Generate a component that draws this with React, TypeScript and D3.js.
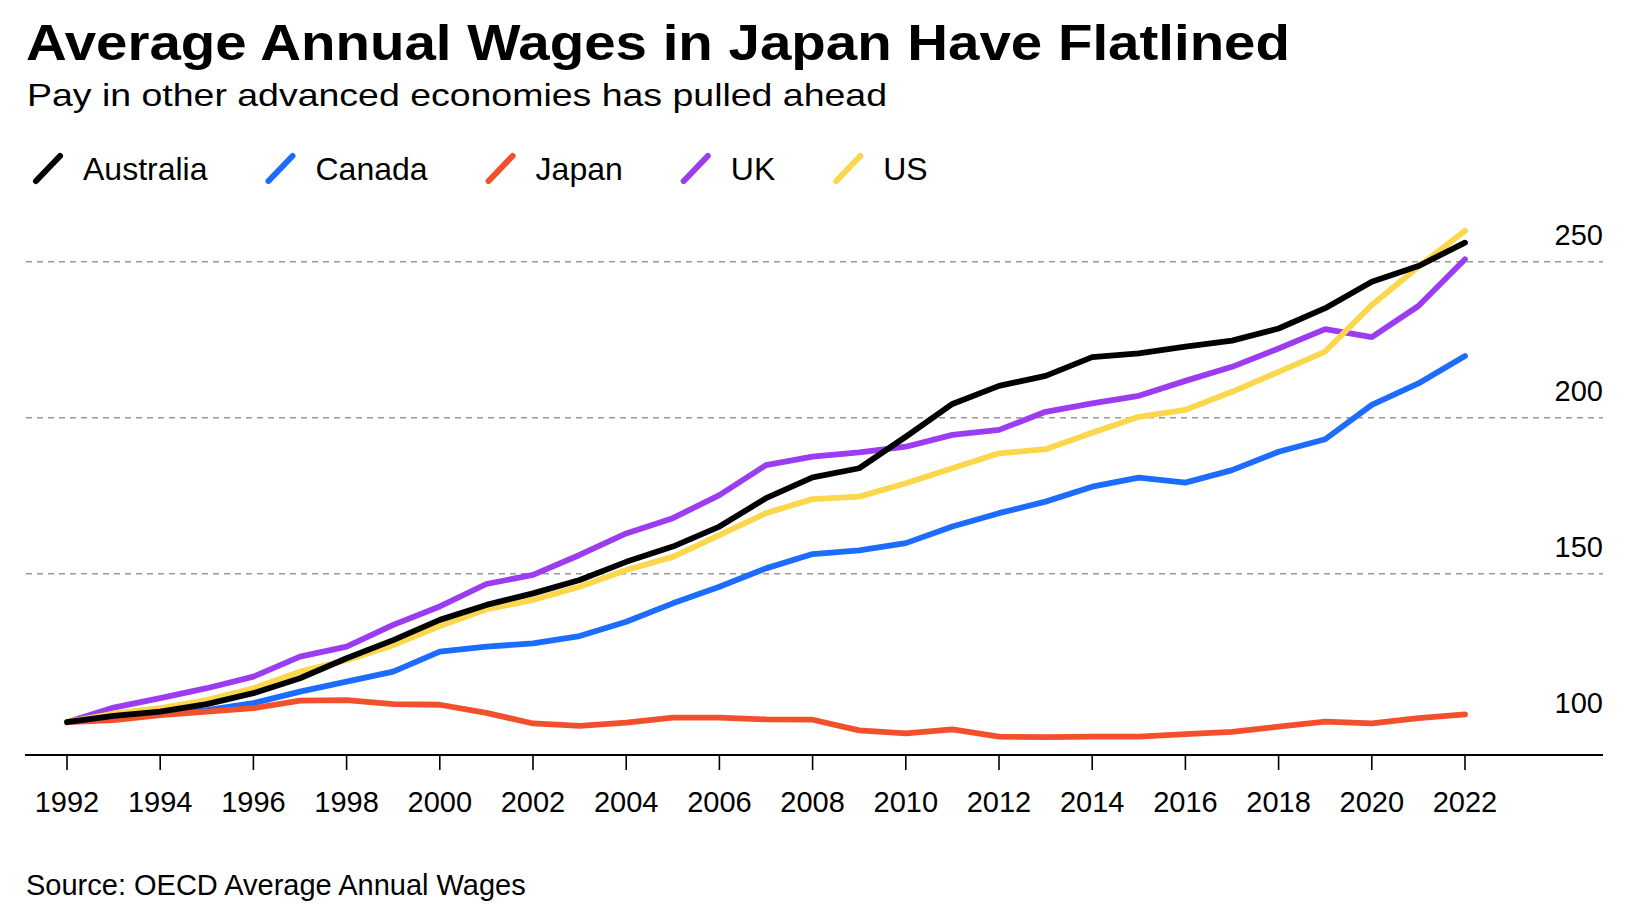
import { useEffect, useRef } from 'react';
import * as d3 from 'd3';

const WIDTH = 1639;
const HEIGHT = 907;

const years = d3.range(1992, 2023);
const yTicks = [100, 150, 200, 250];
const xTicks = d3.range(1992, 2023, 2);

const countries = ['Australia', 'Canada', 'Japan', 'UK', 'US'];
const colors = ['#000000', '#1b6cff', '#f2502d', '#9b3cf0', '#fcd64b'];

const australia = [102.4, 104.4, 105.8, 108.2, 111.7, 116.5, 122.9, 128.7, 135.2, 140.0, 143.7, 148.0, 153.8, 158.7, 165.1, 174.2, 180.9, 183.8, 193.9, 204.4, 210.2, 213.4, 219.4, 220.6, 222.8, 224.7, 228.6, 235.1, 243.6, 248.6, 256.1];
const canada = [102.4, 104.7, 105.8, 106.3, 108.5, 112.2, 115.4, 118.6, 125.0, 126.6, 127.7, 130.0, 134.6, 140.5, 145.8, 151.7, 156.3, 157.5, 159.8, 165.1, 169.4, 173.1, 177.9, 180.8, 179.2, 183.2, 189.1, 193.1, 204.1, 211.0, 219.8];
const japan = [102.4, 103.1, 104.7, 105.8, 106.9, 109.3, 109.5, 108.2, 108.0, 105.4, 102.0, 101.2, 102.3, 103.9, 103.9, 103.3, 103.2, 99.8, 98.8, 100.1, 97.8, 97.6, 97.8, 97.8, 98.6, 99.3, 101.0, 102.6, 102.0, 103.7, 104.9];
const uk = [102.4, 107.1, 110.1, 113.3, 117.0, 123.4, 126.6, 133.6, 139.5, 146.7, 149.6, 156.0, 162.9, 167.8, 175.2, 184.8, 187.5, 188.9, 190.7, 194.5, 196.1, 201.9, 204.6, 207.0, 211.8, 216.3, 222.2, 228.4, 225.8, 235.8, 250.8];
const us = [102.4, 105.2, 106.9, 109.5, 113.3, 118.6, 122.3, 127.1, 133.2, 138.6, 141.6, 145.8, 151.2, 155.4, 162.4, 169.4, 173.9, 174.7, 179.0, 183.8, 188.6, 189.9, 195.2, 200.3, 202.5, 208.3, 214.7, 221.2, 236.1, 248.4, 259.9];

const seriesValues = [australia, canada, japan, uk, us];
// drawing order, back to front
const drawOrder = [1, 2, 3, 4, 0];

const FONT = "'Liberation Sans', Arial, sans-serif";

function App() {
  const svgRef = useRef(null);

  useEffect(() => {
    const svg = d3.select(svgRef.current);
    svg.selectAll('*').remove();

    const x = d3.scaleLinear().domain([1992, 2022]).range([67, 1465]);
    const y = d3.scaleLinear().domain([100, 250]).range([729.7, 261.7]);
    const axisY = 755;
    const left = 25;
    const right = 1603;

    // titles (reference face is wider than Liberation, so stretch to its width)
    svg.append('text')
      .attr('x', 26).attr('y', 60)
      .attr('font-family', FONT).attr('font-weight', 700)
      .attr('font-size', 50)
      .attr('textLength', 1264)
      .attr('lengthAdjust', 'spacingAndGlyphs')
      .attr('fill', '#000')
      .text('Average Annual Wages in Japan Have Flatlined');

    svg.append('text')
      .attr('x', 27).attr('y', 106)
      .attr('font-family', FONT)
      .attr('font-size', 32)
      .attr('textLength', 860)
      .attr('lengthAdjust', 'spacingAndGlyphs')
      .attr('fill', '#000')
      .text('Pay in other advanced economies has pulled ahead');

    // legend
    const legend = svg.append('g').attr('class', 'legend');
    let lx = 34;
    countries.forEach((name, i) => {
      legend.append('line')
        .attr('x1', lx + 2).attr('y1', 181)
        .attr('x2', lx + 26).attr('y2', 156)
        .attr('stroke', colors[i])
        .attr('stroke-width', 6)
        .attr('stroke-linecap', 'round');
      const t = legend.append('text')
        .attr('x', lx + 49).attr('y', 180)
        .attr('font-family', FONT)
        .attr('font-size', 32)
        .attr('fill', '#000')
        .text(name);
      const w = (t.node() as SVGTextElement).getComputedTextLength();
      lx = lx + 49 + w + 59;
    });

    // grid
    svg.append('g')
      .selectAll('line')
      .data(yTicks.filter((d) => d > 100))
      .join('line')
      .attr('x1', left + 1).attr('x2', right)
      .attr('y1', (d) => y(d)).attr('y2', (d) => y(d))
      .attr('stroke', '#9a9a9a')
      .attr('stroke-width', 1.6)
      .attr('stroke-dasharray', '6,5');

    svg.append('g')
      .selectAll('text')
      .data(yTicks)
      .join('text')
      .attr('x', right).attr('y', (d) => y(d) - 17)
      .attr('text-anchor', 'end')
      .attr('font-family', FONT)
      .attr('font-size', 29)
      .attr('fill', '#000')
      .text((d) => d);

    // lines
    const line = d3.line<number>()
      .x((_, i) => x(years[i]))
      .y((d) => y(d));

    svg.append('g')
      .selectAll('path')
      .data(drawOrder)
      .join('path')
      .attr('d', (k) => line(seriesValues[k]))
      .attr('fill', 'none')
      .attr('stroke', (k) => colors[k])
      .attr('stroke-width', 5.8)
      .attr('stroke-linejoin', 'round')
      .attr('stroke-linecap', 'round');

    // x axis
    const xa = svg.append('g').attr('class', 'x-axis');
    xa.append('line')
      .attr('x1', left).attr('x2', right)
      .attr('y1', axisY).attr('y2', axisY)
      .attr('stroke', '#000').attr('stroke-width', 2);
    xa.selectAll('line.tick')
      .data(xTicks)
      .join('line')
      .attr('class', 'tick')
      .attr('x1', (d) => x(d)).attr('x2', (d) => x(d))
      .attr('y1', axisY).attr('y2', axisY + 15)
      .attr('stroke', '#000').attr('stroke-width', 1.6);
    xa.selectAll('text')
      .data(xTicks)
      .join('text')
      .attr('x', (d) => x(d)).attr('y', 812)
      .attr('text-anchor', 'middle')
      .attr('font-family', FONT)
      .attr('font-size', 29)
      .attr('fill', '#000')
      .text((d) => d);

    svg.append('text')
      .attr('x', 26).attr('y', 895)
      .attr('font-family', FONT)
      .attr('font-size', 29)
      .attr('fill', '#000')
      .text('Source: OECD Average Annual Wages');
  }, []);

  return (
    <div style={{ position: 'absolute', left: 0, top: 0, background: '#fff' }}>
      <svg
        ref={svgRef}
        width={WIDTH}
        height={HEIGHT}
        viewBox={`0 0 ${WIDTH} ${HEIGHT}`}
        style={{ display: 'block' }}
      />
    </div>
  );
}

export default App;
